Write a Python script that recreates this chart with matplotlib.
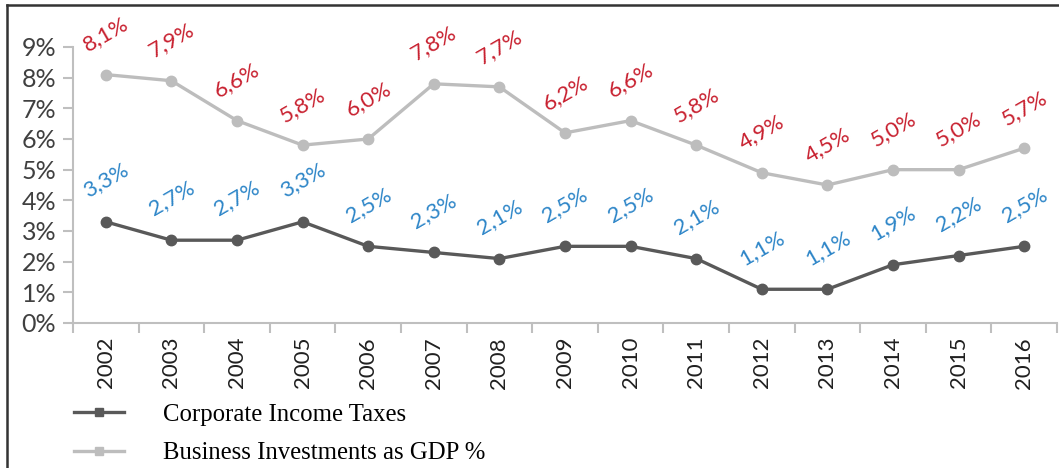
import matplotlib
matplotlib.use("Agg")
import matplotlib.pyplot as plt
from matplotlib.lines import Line2D

years = ["2002", "2003", "2004", "2005", "2006", "2007", "2008", "2009",
         "2010", "2011", "2012", "2013", "2014", "2015", "2016"]
corp_tax = [3.3, 2.7, 2.7, 3.3, 2.5, 2.3, 2.1, 2.5, 2.5, 2.1, 1.1, 1.1, 1.9, 2.2, 2.5]
investments = [8.1, 7.9, 6.6, 5.8, 6.0, 7.8, 7.7, 6.2, 6.6, 5.8, 4.9, 4.5, 5.0, 5.0, 5.7]
y_ticks = [0, 1, 2, 3, 4, 5, 6, 7, 8, 9]

dark = "#595959"
light = "#BDBDBD"
red = "#C8202F"
blue = "#2E86C8"
axis_col = "#BFBFBF"

fig = plt.figure(figsize=(10.59, 4.68), dpi=100)
ax = fig.add_axes([73 / 1059, 1 - 323 / 468, (1057 - 73) / 1059, (323 - 47) / 468])

x = list(range(len(years)))
ax.plot(x, investments, color=light, lw=2.4, marker="o", ms=7.5, zorder=3)
ax.plot(x, corp_tax, color=dark, lw=2.4, marker="o", ms=7.5, zorder=3)

def fmt(v):
    return f"{v:.1f}%".replace(".", ",")

for i, v in enumerate(investments):
    ax.annotate(fmt(v), (i, v), xytext=(0, 29), textcoords="offset points",
                ha="center", va="center", rotation=30, color=red,
                fontsize=16, family="Lato")
for i, v in enumerate(corp_tax):
    ax.annotate(fmt(v), (i, v), xytext=(0, 30), textcoords="offset points",
                ha="center", va="center", rotation=30, color=blue,
                fontsize=16, family="Lato")

ax.set_xlim(-0.5, len(years) - 0.5)
ax.set_ylim(0, 9)
ax.set_yticks(y_ticks)
ax.set_yticklabels([f"{t}%" for t in y_ticks], family="Lato", fontsize=18, color="#404040")
ax.set_xticks(x)
ax.set_xticklabels(years, rotation=90, family="Lato", fontsize=16, color="#202020")
ax.set_xticks([i - 0.5 for i in range(len(years) + 1)], minor=True)
ax.tick_params(axis="x", which="major", length=0, pad=10)
ax.tick_params(axis="x", which="minor", length=7, color=axis_col, width=1.5)
ax.tick_params(axis="y", length=7, color=axis_col, width=1.5, pad=5)

for s in ["top", "right"]:
    ax.spines[s].set_visible(False)
for s in ["left", "bottom"]:
    ax.spines[s].set_color(axis_col)
    ax.spines[s].set_linewidth(1.5)

# outer frame (left and top edges visible)
fig.add_artist(Line2D([6.5 / 1059, 6.5 / 1059], [0, 1 - 5 / 468], color="#333333", lw=1.8))
fig.add_artist(Line2D([6.5 / 1059, 1], [1 - 5 / 468, 1 - 5 / 468], color="#333333", lw=1.8))

handles = [
    Line2D([], [], color=dark, lw=2.4, marker="s", ms=6),
    Line2D([], [], color=light, lw=2.4, marker="s", ms=6),
]
fig.legend(handles, ["Corporate Income Taxes", "Business Investments as GDP %"],
           loc="lower left", bbox_to_anchor=(52 / 1059, -0.04), frameon=False,
           handlelength=2.0, handletextpad=1.6, labelspacing=0.66,
           prop={"family": "Liberation Serif", "size": 17.8})

fig.savefig("out.png", dpi=100)
